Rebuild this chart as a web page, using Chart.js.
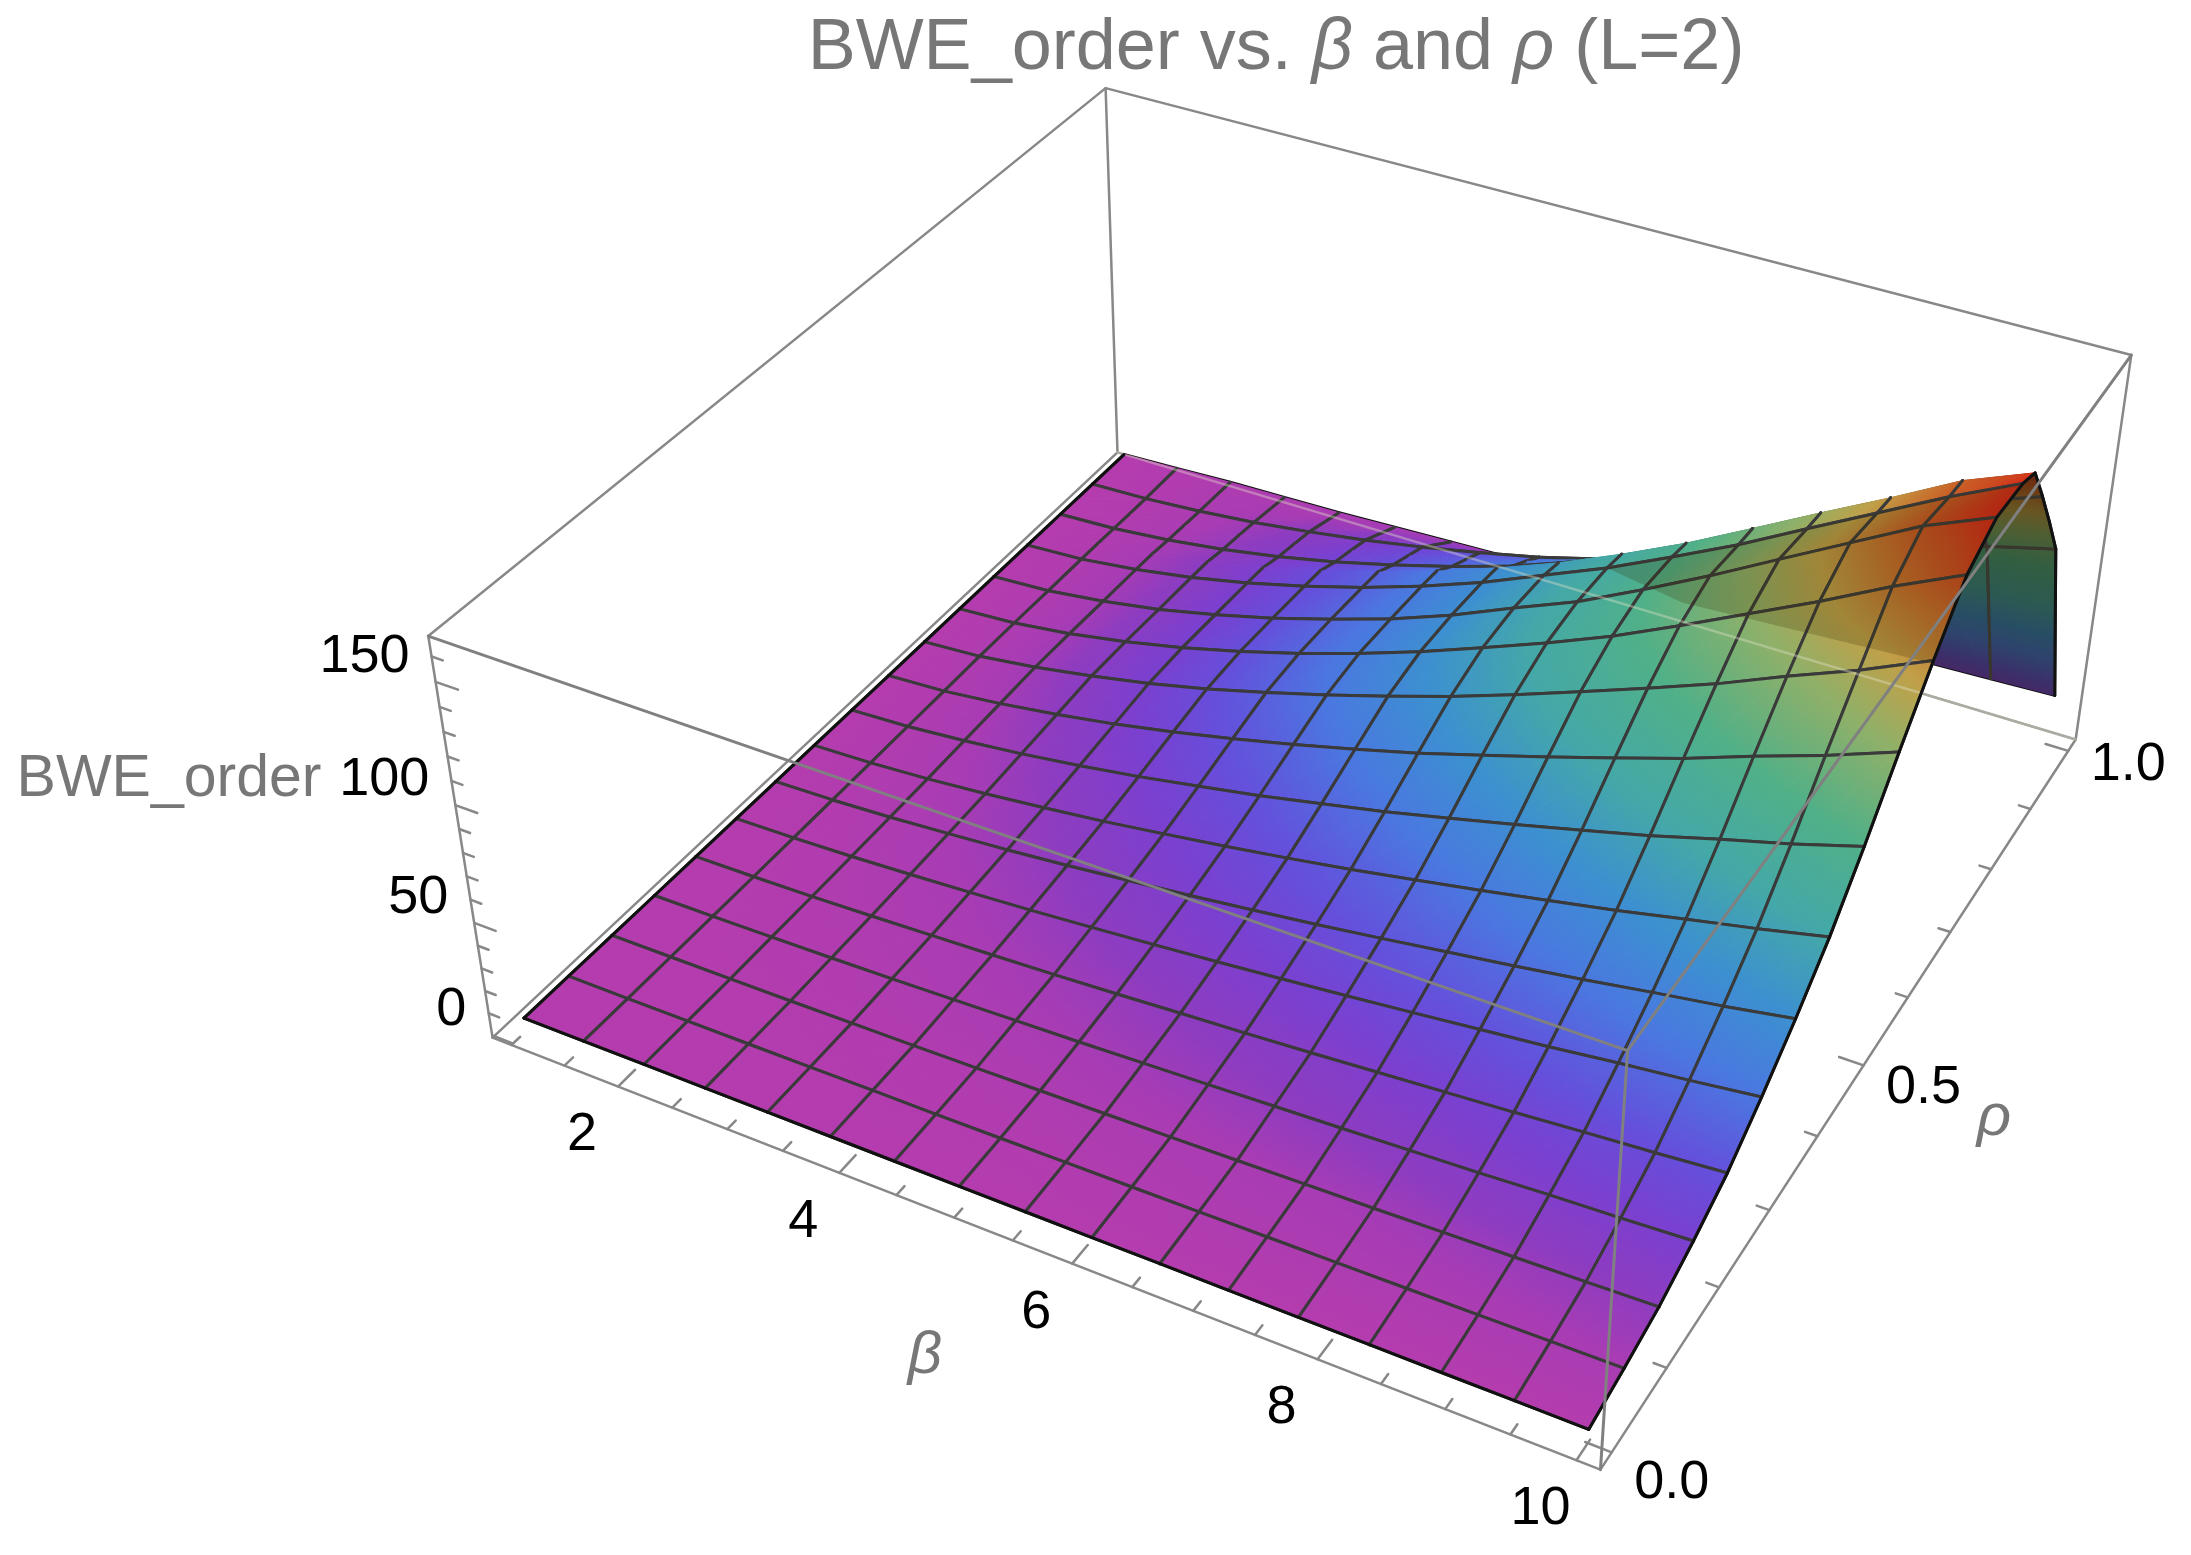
<!DOCTYPE html>
<html lang="en">

<head>
    <meta charset="UTF-8">
    <title>BWE_order vs. beta and rho (L=2)</title>
    <script src="https://cdn.jsdelivr.net/npm/chart.js"></script>
    <style>
        html, body { margin: 0; padding: 0; background: #fff; }
        canvas { display: block; }
    </style>
</head>

<body>
    <canvas id="grafico" width="2191" height="1555"></canvas>

    <script>
        // grid of the surface; two extra rho rows round off the ridge and carry no mesh line
        const betaMesh = [1, 1.5625, 2.125, 2.6875, 3.25, 3.8125, 4.375, 4.9375, 5.5, 6.0625, 6.625, 7.1875, 7.75, 8.3125, 8.875, 9.4375, 10];
        const rhoMesh = [0, 0.0625, 0.125, 0.1875, 0.25, 0.3125, 0.375, 0.4375, 0.5, 0.5625, 0.625, 0.6875, 0.75, 0.8125, 0.84375, 0.875, 0.90625, 0.9375, 1];
        const rhoNoLine = [0.84375, 0.90625];

        // BWE_order, one row per rhoMesh value, columns follow betaMesh
        const zRho000 = [5, 5, 5, 5, 5, 5, 5, 5, 5, 5, 5, 5, 5, 5, 5, 5, 5];
        const zRho006 = [5, 5, 5.1, 5.2, 5.3, 5.5, 5.6, 5.8, 6.1, 6.3, 6.6, 6.9, 7.2, 7.5, 7.8, 8.2, 8.6];
        const zRho012 = [5, 5.1, 5.2, 5.4, 5.7, 6, 6.4, 6.9, 7.4, 7.9, 8.5, 9.2, 9.8, 10.6, 11.3, 12.1, 13];
        const zRho019 = [5, 5.2, 5.6, 6.1, 6.7, 7.5, 8.3, 9.1, 10.2, 11.2, 12.3, 13.4, 14.6, 15.8, 17.3, 18.5, 20];
        const zRho025 = [5, 5.3, 5.9, 6.8, 7.8, 8.9, 10.1, 11.5, 13.1, 14.6, 16.3, 18.2, 20.1, 22, 24.2, 26.2, 28.5];
        const zRho031 = [5, 5.5, 6.4, 7.7, 9.2, 10.9, 12.9, 15, 17.3, 19.8, 22.4, 25.2, 28.1, 31, 34.4, 37.5, 41];
        const zRho038 = [5, 5.7, 7, 8.8, 10.8, 13.2, 16, 18.9, 22.1, 25.5, 29.2, 33.1, 37, 41.2, 45.8, 50.1, 55];
        const zRho044 = [5, 5.9, 7.6, 9.9, 12.7, 15.8, 19.5, 23.3, 27.5, 32, 36.9, 42, 47.3, 52.7, 58.8, 64.6, 71];
        const zRho050 = [5, 6.2, 8.5, 11.4, 15, 19.1, 23.9, 28.8, 34.4, 40.2, 46.6, 53.2, 60.1, 67.2, 75.1, 82.6, 91];
        const zRho056 = [5, 6.4, 9.3, 13.1, 17.5, 22.8, 28.7, 35, 41.9, 49.2, 57.3, 65.6, 74.2, 83.1, 93.1, 102.5, 113];
        const zRho062 = [5, 6.7, 10.2, 14.7, 20, 26.2, 33.3, 40.9, 49.2, 57.8, 67.4, 77.4, 87.7, 98.3, 110.2, 121.4, 134];
        const zRho069 = [5, 6.7, 10.1, 14.8, 20.6, 27.4, 35, 43.6, 53, 63.4, 74, 85.5, 98.5, 112, 125.5, 140, 153];
        const zRho075 = [5, 6.5, 9.8, 14.3, 20.2, 27, 35, 43.5, 53.7, 65.3, 76.5, 90, 104.3, 119.5, 134.5, 149.5, 161];
        const zRho081 = [5, 6.4, 9.6, 14, 19.7, 26.4, 34.2, 43, 53, 64.5, 76, 89, 102.5, 117.4, 132, 146.7, 160];
        const zRho084 = [5, 6.3, 9.4, 13.7, 19.3, 25.9, 33.6, 42.3, 52, 62.5, 74.5, 87.5, 102, 116.7, 131, 146, 157];
        const zRho088 = [5, 6.1, 8.6, 12.2, 16.9, 22.6, 29.3, 36.8, 45.1, 55.3, 66.3, 78.5, 91.6, 105, 118, 130, 140];
        const zRho091 = [5, 5.9, 8.1, 11.3, 15.3, 20.3, 26, 32.5, 39.8, 48.8, 58.4, 69, 80.5, 92, 103, 114, 122];
        const zRho094 = [5, 5.8, 7.6, 10.2, 13.7, 17.8, 22.6, 28.1, 34.1, 41.5, 49.5, 58, 67.5, 77, 87, 96, 103];
        const zRho100 = [5, 6, 7, 7.5, 8, 9, 10, 11, 12, 13, 14, 15.5, 17, 18.5, 20, 21, 22];
        const zRows = [zRho000, zRho006, zRho012, zRho019, zRho025, zRho031, zRho038, zRho044, zRho050, zRho056, zRho062, zRho069, zRho075, zRho081, zRho084, zRho088, zRho091, zRho094, zRho100];

        // ticks
        const betaTicks = [1, 1.5, 2, 2.5, 3, 3.5, 4, 4.5, 5, 5.5, 6, 6.5, 7, 7.5, 8, 8.5, 9, 9.5, 10];
        const betaLabels = [2, 4, 6, 8, 10];
        const rhoTicks = [0, 0.1, 0.2, 0.3, 0.4, 0.5, 0.6, 0.7, 0.8, 0.9, 1];
        const rhoLabels = ['0.0', '0.5', '1.0'];
        const zTicks = [0, 10, 20, 30, 40, 50, 60, 70, 80, 90, 100, 110, 120, 130, 140, 150, 160];
        const zLabels = [0, 50, 100, 150];

        // colour function of the surface
        const colorLevels = [5, 9, 13, 20, 28, 41, 55, 71, 91, 113, 128, 142, 152, 160];
        const colorValues = [
            [180, 60, 174], [168, 60, 180], [142, 60, 192], [122, 64, 208], [100, 80, 220], [74, 120, 224],
            [60, 144, 208], [68, 168, 168], [80, 176, 136], [144, 176, 104], [192, 160, 72], [200, 110, 44], [204, 74, 32], [216, 40, 24]
        ];

        // plot box limits and where its corners sit in the picture
        const betaRange = [0.82, 10.18];
        const rhoRange = [-0.02, 1.02];
        const zRange = [-1, 168];
        const boxCorners = [
            [0, 0, 0, 492, 1037], [1, 0, 0, 1600, 1470], [1, 1, 0, 2076, 738], [0, 1, 0, 1118, 454],
            [0, 0, 1, 429, 636], [1, 0, 1, 1628, 1051], [1, 1, 1, 2131, 356], [0, 1, 1, 1105, 87]
        ];

        function resolver(A, b) {
            const n = b.length;
            const M = A.map((fila, i) => [...fila, b[i]]);
            for (let c = 0; c < n; c++) {
                let piv = c;
                for (let f = c + 1; f < n; f++) {
                    if (Math.abs(M[f][c]) > Math.abs(M[piv][c])) piv = f;
                }
                [M[c], M[piv]] = [M[piv], M[c]];
                for (let f = 0; f < n; f++) {
                    if (f === c) continue;
                    const k = M[f][c] / M[c][c];
                    for (let j = c; j <= n; j++) M[f][j] -= k * M[c][j];
                }
            }
            return M.map((fila, i) => fila[n] / fila[i]);
        }

        // camera matrix fitted to the eight box corners
        function ajustarCamara() {
            const filas = [];
            const valores = [];
            boxCorners.forEach(([u, v, w, px, py]) => {
                const x = px / 1000;
                const y = py / 1000;
                filas.push([u, v, w, 1, 0, 0, 0, 0, -x * u, -x * v, -x * w]);
                valores.push(x);
                filas.push([0, 0, 0, 0, u, v, w, 1, -y * u, -y * v, -y * w]);
                valores.push(y);
            });
            const AtA = [];
            const Atb = [];
            for (let i = 0; i < 11; i++) {
                AtA.push([]);
                for (let j = 0; j < 11; j++) {
                    AtA[i].push(filas.reduce((s, f) => s + f[i] * f[j], 0));
                }
                Atb.push(filas.reduce((s, f, k) => s + f[i] * valores[k], 0));
            }
            return resolver(AtA, Atb);
        }
        const camara = ajustarCamara();

        function proyectar(beta, rho, z) {
            const u = (beta - betaRange[0]) / (betaRange[1] - betaRange[0]);
            const v = (rho - rhoRange[0]) / (rhoRange[1] - rhoRange[0]);
            const w = (z - zRange[0]) / (zRange[1] - zRange[0]);
            const p = camara;
            const d = p[8] * u + p[9] * v + p[10] * w + 1;
            return {
                x: 1000 * (p[0] * u + p[1] * v + p[2] * w + p[3]) / d,
                y: 1000 * (p[4] * u + p[5] * v + p[6] * w + p[7]) / d
            };
        }

        function colorDe(z, luz) {
            let i = 0;
            while (i < colorLevels.length - 2 && z > colorLevels[i + 1]) i++;
            const t = Math.min(1, Math.max(0, (z - colorLevels[i]) / (colorLevels[i + 1] - colorLevels[i])));
            const c = colorValues[i].map((a, k) => Math.round((a + (colorValues[i + 1][k] - a) * t) * luz));
            return `rgb(${c[0]},${c[1]},${c[2]})`;
        }

        const canvas = document.getElementById('grafico');
        const ctx = canvas.getContext('2d');

        // linear gradient that follows z exactly across one triangle
        function degradado(p, zs, luz) {
            const det = (p[1].x - p[0].x) * (p[2].y - p[0].y) - (p[2].x - p[0].x) * (p[1].y - p[0].y);
            const lo = Math.min(...zs);
            const hi = Math.max(...zs);
            if (Math.abs(det) < 1e-6 || hi - lo < 0.01) return colorDe((lo + hi) / 2, luz);
            const dz1 = zs[1] - zs[0];
            const dz2 = zs[2] - zs[0];
            const gx = (dz1 * (p[2].y - p[0].y) - dz2 * (p[1].y - p[0].y)) / det;
            const gy = (dz2 * (p[1].x - p[0].x) - dz1 * (p[2].x - p[0].x)) / det;
            const g2 = gx * gx + gy * gy;
            const a = (lo - zs[0]) / g2;
            const b = (hi - zs[0]) / g2;
            const grad = ctx.createLinearGradient(p[0].x + gx * a, p[0].y + gy * a, p[0].x + gx * b, p[0].y + gy * b);
            grad.addColorStop(0, colorDe(lo, luz));
            colorLevels.forEach(nivel => {
                if (nivel > lo && nivel < hi) grad.addColorStop((nivel - lo) / (hi - lo), colorDe(nivel, luz));
            });
            grad.addColorStop(1, colorDe(hi, luz));
            return grad;
        }

        const capas = [];

        function linea(puntos, color, ancho) {
            capas.push({ data: puntos, borderColor: color, borderWidth: ancho, backgroundColor: 'transparent' });
        }

        function poligono(puntos, relleno) {
            capas.push({ data: puntos, borderColor: relleno, borderWidth: 0, backgroundColor: relleno, relleno: true });
        }

        function triangulo(puntos, zs, luz) {
            const g = degradado(puntos, zs, luz);
            capas.push({ data: [...puntos, puntos[0]], borderColor: g, borderWidth: 1, backgroundColor: g, relleno: true });
        }

        const gris = 'rgb(136,136,136)';
        const [bMin, bMax] = betaRange;
        const [rMin, rMax] = rhoRange;
        const [zMin, zMax] = zRange;

        // back edges of the box
        linea([proyectar(bMin, rMin, zMin), proyectar(bMax, rMin, zMin), proyectar(bMax, rMax, zMin)], gris, 2.5);
        linea([proyectar(bMin, rMin, zMin), proyectar(bMin, rMax, zMin), proyectar(bMax, rMax, zMin)], gris, 2.5);
        linea([proyectar(bMin, rMin, zMin), proyectar(bMin, rMin, zMax), proyectar(bMin, rMax, zMax), proyectar(bMax, rMax, zMax)], gris, 2.5);
        linea([proyectar(bMin, rMax, zMin), proyectar(bMin, rMax, zMax)], gris, 2.5);
        linea([proyectar(bMax, rMax, zMin), proyectar(bMax, rMax, zMax)], gris, 2.5);

        // ticks
        betaTicks.forEach(b => {
            const largo = betaLabels.includes(b) ? 0.024 : 0.012;
            linea([proyectar(b, rMin, zMin), proyectar(b, rMin + largo, zMin)], gris, 2.5);
        });
        rhoTicks.forEach((r, i) => {
            const largo = i % 5 === 0 ? 0.2 : 0.1;
            linea([proyectar(bMax, r, zMin), proyectar(bMax - largo, r, zMin)], gris, 2.5);
        });
        zTicks.forEach(z => {
            const largo = z % 50 === 0 ? 0.2 : 0.1;
            linea([proyectar(bMin, rMin, z), proyectar(bMin + largo, rMin, z)], gris, 2.5);
        });

        // surface, far cells first
        const malla = '#3a3a3a';
        const nB = betaMesh.length;
        const nR = rhoMesh.length;
        for (let j = nR - 2; j >= 0; j--) {
            if (j === nR - 2) {
                linea(betaMesh.map((b, i) => proyectar(b, rhoMesh[nR - 1], zRows[nR - 1][i])), '#111', 3);
            }
            const paso = rhoMesh[j + 1] - rhoMesh[j];
            for (let i = 0; i < nB - 1; i++) {
                const a = proyectar(betaMesh[i], rhoMesh[j], zRows[j][i]);
                const b = proyectar(betaMesh[i + 1], rhoMesh[j], zRows[j][i + 1]);
                const c = proyectar(betaMesh[i + 1], rhoMesh[j + 1], zRows[j + 1][i + 1]);
                const d = proyectar(betaMesh[i], rhoMesh[j + 1], zRows[j + 1][i]);
                // only the far side of the ridge faces away from the light
                const caida = (zRows[j][i] + zRows[j][i + 1] - zRows[j + 1][i] - zRows[j + 1][i + 1]) / 2;
                const luz = caida > 272 * paso ? 0.62 : 1;
                triangulo([a, b, c], [zRows[j][i], zRows[j][i + 1], zRows[j + 1][i + 1]], luz);
                triangulo([a, c, d], [zRows[j][i], zRows[j + 1][i + 1], zRows[j + 1][i]], luz);
                linea([d, a], malla, 3);
                linea([b, c], malla, 3);
                if (!rhoNoLine.includes(rhoMesh[j])) linea([a, b], malla, 3);
                if (!rhoNoLine.includes(rhoMesh[j + 1]) && j + 1 < nR - 1) linea([d, c], malla, 3);
            }
        }

        // the surface is slightly see-through: the back slope darkens what lies in front of it
        const crestaFondo = [
            ...betaMesh.slice(10).map((b, i) => proyectar(b, rhoMesh[13], zRows[13][i + 10])),
            ...[14, 15, 16, 17].map(j => proyectar(betaMesh[nB - 1], rhoMesh[j], zRows[j][nB - 1])),
            ...betaMesh.slice(10).map((b, i) => proyectar(b, rhoMesh[nR - 1], zRows[nR - 1][i + 10])).reverse()
        ];
        poligono(crestaFondo, 'rgba(50,40,0,0.22)');
        linea([proyectar(bMin, rMax, zMin), proyectar(bMax, rMax, zMin)], 'rgba(225,225,200,0.4)', 2.5);

        // outline of the surface
        linea(rhoMesh.map((r, j) => proyectar(betaMesh[0], r, zRows[j][0])), '#111', 3);
        linea(betaMesh.map((b, i) => proyectar(b, rhoMesh[0], zRows[0][i])), '#111', 3);
        linea(rhoMesh.map((r, j) => proyectar(betaMesh[nB - 1], r, zRows[j][nB - 1])), '#111', 3);

        // front edges of the box, drawn over the surface
        const grisFrente = 'rgb(128,128,128)';
        linea([proyectar(bMin, rMin, zMax), proyectar(bMax, rMin, zMax), proyectar(bMax, rMax, zMax)], grisFrente, 3);
        linea([proyectar(bMax, rMin, zMin), proyectar(bMax, rMin, zMax)], grisFrente, 3);

        // the first dataset paints last, so lower order goes on top
        const datasets = capas.map((c, i) => ({
            ...c,
            order: capas.length - i,
            showLine: true,
            pointRadius: 0,
            tension: 0,
            fill: false,
            borderJoinStyle: 'round',
            borderCapStyle: 'round'
        }));

        const rellenoPlugin = {
            id: 'rellenoPlugin',
            beforeDatasetDraw(chart, args) {
                const ds = chart.data.datasets[args.index];
                if (!ds.relleno) return;
                const c = chart.ctx;
                c.save();
                c.fillStyle = ds.backgroundColor;
                c.beginPath();
                args.meta.data.forEach((p, i) => (i ? c.lineTo(p.x, p.y) : c.moveTo(p.x, p.y)));
                c.closePath();
                c.fill();
                c.restore();
            }
        };

        const fuente = '"Liberation Sans", Arial, sans-serif';
        const negro = '#000';
        const grisTexto = '#777';

        const textosPlugin = {
            id: 'textosPlugin',
            afterDraw(chart) {
                const c = chart.ctx;
                const sx = chart.scales.x;
                const sy = chart.scales.y;
                const texto = (t, p, dx, dy, align, font, color) => {
                    c.font = font;
                    c.fillStyle = color;
                    c.textAlign = align;
                    c.textBaseline = 'middle';
                    c.fillText(t, sx.getPixelForValue(p.x) + dx, sy.getPixelForValue(p.y) + dy);
                };
                c.save();
                const numeros = `54px ${fuente}`;
                zLabels.forEach(z => texto(String(z), proyectar(bMin, rMin, z), -26, -25, 'right', numeros, negro));
                betaLabels.forEach(b => texto(String(b), proyectar(b, rMin, zMin), -36, 49, 'center', numeros, negro));
                rhoLabels.forEach(r => texto(r, proyectar(bMax, Number(r), zMin), 60, 14 + 17 * (1 - Number(r)), 'center', numeros, negro));

                texto('BWE_order', { x: 169, y: 780 }, 0, 0, 'center', `59px ${fuente}`, grisTexto);
                texto('β', { x: 925, y: 1356 }, 0, 0, 'center', `italic 60px ${fuente}`, grisTexto);
                texto('ρ', { x: 1994, y: 1118 }, 0, 0, 'center', `italic 60px ${fuente}`, grisTexto);

                // title, the Greek letters are italic
                const partes = [
                    ['BWE_order vs. ', false], ['β', true], [' and ', false], ['ρ', true], [' (L=2)', false]
                ];
                const fontDe = cursiva => `${cursiva ? 'italic ' : ''}72px ${fuente}`;
                let total = 0;
                partes.forEach(([t, cursiva]) => {
                    c.font = fontDe(cursiva);
                    total += c.measureText(t).width;
                });
                let x = 1276 - total / 2;
                partes.forEach(([t, cursiva]) => {
                    c.font = fontDe(cursiva);
                    c.fillStyle = grisTexto;
                    c.textAlign = 'left';
                    c.textBaseline = 'middle';
                    c.fillText(t, x, 49);
                    x += c.measureText(t).width;
                });
                c.restore();
            }
        };

        new Chart(ctx, {
            type: 'scatter',
            data: { datasets },
            options: {
                responsive: false,
                animation: false,
                events: [],
                layout: { padding: 0 },
                scales: {
                    x: { type: 'linear', min: 0, max: 2191, display: false },
                    y: { type: 'linear', min: 0, max: 1555, reverse: true, display: false }
                },
                plugins: {
                    legend: { display: false },
                    tooltip: { enabled: false },
                    title: { display: false, text: 'BWE_order vs. β and ρ (L=2)' }
                }
            },
            plugins: [rellenoPlugin, textosPlugin]
        });
    </script>

</body>

</html>
